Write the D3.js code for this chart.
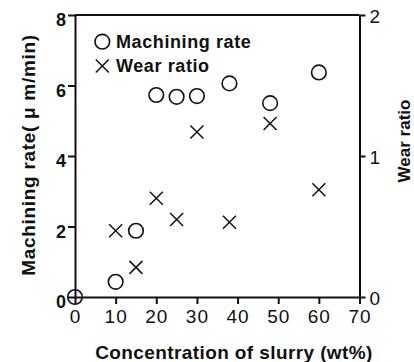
<!DOCTYPE html>
<html>
<head>
<meta charset="utf-8">
<script src="https://cdn.jsdelivr.net/npm/d3@7"></script>
<style>
  body { margin: 0; background: #fff; }
  svg { display: block; }
  text { font-family: "Liberation Sans", Arial, sans-serif; fill: #111; }
</style>
</head>
<body>
<script>
// concentration of slurry (wt%)
var rateConc = [0, 10, 15, 20, 25, 30, 38, 48, 60];
var rateVals = [0, 0.43, 1.88, 5.73, 5.68, 5.70, 6.06, 5.50, 6.37];
var wearConc = [10, 15, 20, 25, 30, 38, 48, 60];
var wearVals = [0.47, 0.21, 0.70, 0.55, 1.17, 0.53, 1.23, 0.76];
var xTicks = [0, 10, 20, 30, 40, 50, 60, 70];
var yTicks = [0, 2, 4, 6, 8];
var y2Ticks = [0, 1, 2];
var legendLabels = ['Machining rate', 'Wear ratio'];

var W = 414, H = 362;
var svg = d3.select('body').append('svg')
  .attr('width', W)
  .attr('height', H);

var x = d3.scaleLinear().domain([0, 70]).range([75, 359.5]);
var y = d3.scaleLinear().domain([0, 8]).range([297, 15]);
var y2 = d3.scaleLinear().domain([0, 2]).range([297, 15]);

var styleAxis = function(g, bold, size, spacing) {
  g.selectAll('path, line').attr('stroke', '#111').attr('stroke-width', 2);
  g.selectAll('text')
    .style('font-family', '"Liberation Sans", Arial, sans-serif')
    .style('font-size', size + 'px')
    .style('font-weight', bold ? 'bold' : 'normal')
    .style('letter-spacing', (spacing || 0) + 'px')
    .attr('fill', '#111');
};

svg.append('g')
  .attr('transform', 'translate(0,' + y(0) + ')')
  .call(d3.axisBottom(x).tickValues(xTicks).tickSize(7).tickSizeOuter(0).tickPadding(6))
  .call(function(g) { styleAxis(g, false, 19, 1); });

svg.append('g')
  .attr('transform', 'translate(' + x(0) + ',0)')
  .call(d3.axisLeft(y).tickValues(yTicks).tickSize(7).tickSizeOuter(0).tickPadding(2))
  .call(function(g) { styleAxis(g, true, 18); g.selectAll('text').attr('dy', '0.6em'); });

svg.append('g')
  .attr('transform', 'translate(' + x(70) + ',0)')
  .call(d3.axisRight(y2).tickValues(y2Ticks).tickFormat(d3.format('d')).tickSize(6).tickSizeOuter(0).tickPadding(4))
  .call(function(g) { styleAxis(g, false, 19); g.selectAll('text').attr('dy', '0.4em'); });

// top frame line
svg.append('line')
  .attr('x1', x(0)).attr('x2', x(70))
  .attr('y1', y(8)).attr('y2', y(8))
  .attr('stroke', '#111').attr('stroke-width', 2);

// axis titles
svg.append('text')
  .attr('x', 234)
  .attr('y', 359)
  .attr('text-anchor', 'middle')
  .style('font-size', '19px')
  .style('font-weight', 'bold')
  .style('letter-spacing', '0.4px')
  .text('Concentration of slurry (wt%)');

svg.append('text')
  .attr('transform', 'translate(35,155) rotate(-90)')
  .attr('text-anchor', 'middle')
  .style('font-size', '19px')
  .style('font-weight', 'bold')
  .style('letter-spacing', '0.7px')
  .text('Machining rate( \u03bc m/min)');

svg.append('text')
  .attr('transform', 'translate(409.5,141) rotate(-90)')
  .attr('text-anchor', 'middle')
  .style('font-size', '17px')
  .style('font-weight', 'bold')
  .text('Wear ratio');

var crossPath = function(s) {
  return 'M' + (-s) + ',' + (-s) + 'L' + s + ',' + s + 'M' + (-s) + ',' + s + 'L' + s + ',' + (-s);
};

// machining rate points
svg.append('g').selectAll('circle')
  .data(rateConc)
  .join('circle')
  .attr('cx', function(d) { return x(d); })
  .attr('cy', function(d, i) { return y(rateVals[i]); })
  .attr('r', 7.3)
  .attr('fill', 'none')
  .attr('stroke', '#111')
  .attr('stroke-width', 1.6);

// wear ratio points
svg.append('g').selectAll('path')
  .data(wearConc)
  .join('path')
  .attr('transform', function(d, i) { return 'translate(' + x(d) + ',' + y2(wearVals[i]) + ')'; })
  .attr('d', crossPath(6.5))
  .attr('fill', 'none')
  .attr('stroke', '#111')
  .attr('stroke-width', 1.5);

// legend
var legend = svg.append('g');
legend.append('circle')
  .attr('cx', 102.3).attr('cy', 41.7).attr('r', 7.3)
  .attr('fill', 'none').attr('stroke', '#111').attr('stroke-width', 1.6);
legend.append('path')
  .attr('transform', 'translate(102.3,66)')
  .attr('d', crossPath(6.5))
  .attr('fill', 'none').attr('stroke', '#111').attr('stroke-width', 1.5);
legend.selectAll('text')
  .data(legendLabels)
  .join('text')
  .attr('x', 116)
  .attr('y', function(d, i) { return 48.3 + i * 23.4; })
  .style('font-size', '18px')
  .style('font-weight', 'bold')
  .style('letter-spacing', '0.6px')
  .text(function(d) { return d; });
</script>
</body>
</html>
